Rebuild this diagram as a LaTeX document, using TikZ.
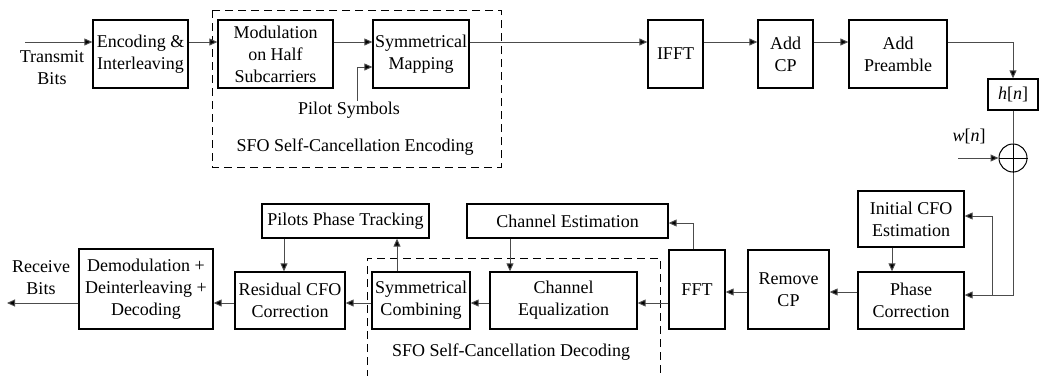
\documentclass[tikz,border=0pt]{standalone}
\usepackage{fontspec}
\setmainfont{Liberation Serif}
\usetikzlibrary{arrows.meta}

\begin{document}
\begin{tikzpicture}[x=1pt, y=-1pt,
  blk/.style={draw, line width=1.3pt, align=center, inner sep=0pt},
  arr/.style={draw=black!70, line width=1pt, -{Triangle[length=8pt, width=7pt, fill=black]}},
  wire/.style={draw=black!70, line width=1pt},
  lbl/.style={align=center, inner sep=1pt},
  every node/.style={font=\fontsize{18}{22}\selectfont}]
\useasboundingbox (0,0) rectangle (1039,375);

% TRANSMITTER
\node [lbl] (txbits) at (52, 68) {Transmit\\Bits};
\coordinate (tin) at (25, 42);
\node [blk, minimum width=95pt, minimum height=68pt] (enc) at (140.5, 54) {Encoding \&\\Interleaving};
\node [blk, minimum width=115pt, minimum height=68pt] (mod) at (275.5, 54) {Modulation\\on Half\\Subcarriers};
\node [blk, minimum width=96pt, minimum height=68pt] (symmap) at (421, 54) {Symmetrical\\Mapping};
\node [lbl] (pilot) at (349, 110) {Pilot Symbols};
\node [lbl] (enclbl) at (355, 147) {SFO Self-Cancellation Encoding};
\node [blk, minimum width=55pt, minimum height=68pt] (ifft) at (675.5, 54) {IFFT};
\node [blk, minimum width=55pt, minimum height=68pt] (addcp) at (785.5, 54) {Add\\CP};
\node [blk, minimum width=98pt, minimum height=68pt] (addpre) at (898, 54) {Add\\Preamble};

% CHANNEL
\node [blk, minimum width=50pt, minimum height=31pt] (hn) at (1013, 94.5) {\textit{h}[\textit{n}]};
\node [draw, line width=1pt, circle, minimum size=28pt, inner sep=0pt] (sum) at (1013, 158) {};
\draw [line width=1pt] (sum.north) -- (sum.south) (sum.west) -- (sum.east);
\node [lbl] (wn) at (969, 136) {\textit{w}[\textit{n}]};
\coordinate (win) at (958, 158);

% RECEIVER
\node [blk, minimum width=106pt, minimum height=56pt] (icfo) at (911, 219) {Initial CFO\\Estimation};
\node [blk, minimum width=106pt, minimum height=57pt] (phase) at (911, 300.5) {Phase\\Correction};
\node [blk, minimum width=81pt, minimum height=79pt] (rmcp) at (788.5, 289.5) {Remove\\CP};
\node [blk, minimum width=56pt, minimum height=79pt] (fft) at (697, 289.5) {FFT};
\node [blk, minimum width=201pt, minimum height=34pt] (chest) at (567.5, 221) {Channel Estimation};
\node [blk, minimum width=147pt, minimum height=57pt] (cheq) at (563.5, 300.5) {Channel\\Equalization};
\node [blk, minimum width=98pt, minimum height=57pt] (symc) at (421, 300.5) {Symmetrical\\Combining};
\node [blk, minimum width=167pt, minimum height=34pt] (ppt) at (345.5, 221) {Pilots Phase Tracking};
\node [blk, minimum width=110pt, minimum height=57pt] (rcfo) at (290, 300.5) {Residual CFO\\Correction};
\node [blk, minimum width=134pt, minimum height=80pt] (demod) at (146, 289) {Demodulation +\\Deinterleaving +\\Decoding};
\node [lbl] (rxbits) at (41, 278) {Receive\\Bits};
\coordinate (rout) at (7, 303);
\node [lbl] (declbl) at (511, 352) {SFO Self-Cancellation Decoding};

% dashed groups
\draw [dashed, line width=1pt, dash pattern=on 8pt off 5pt] (212, 10) rectangle (501, 167);
\draw [dashed, line width=1pt, dash pattern=on 8pt off 5pt] (367, 378) -- (367, 258) -- (660, 258) -- (660, 378);

% connectors, top row
\draw [arr] (tin) -- (enc.west |- tin);
\draw [arr] (enc.east |- 0,42) -- (mod.west |- 0,42);
\draw [arr] (mod.east |- 0,42) -- (symmap.west |- 0,42);
\draw [arr] ([xshift=8pt]pilot.north) |- (symmap.west |- 0,67);
\draw [arr] (symmap.east |- 0,42) -- (ifft.west |- 0,42);
\draw [arr] (ifft.east |- 0,42) -- (addcp.west |- 0,42);
\draw [arr] (addcp.east |- 0,42) -- (addpre.west |- 0,42);
\draw [arr] (addpre.east |- 0,42) -| (hn.north);
\draw [wire] (hn.south) -- (sum.north);
\draw [arr] (win) -- (sum.west);

% connectors, bottom row
\coordinate (br) at (992, 295);
\draw [wire] (sum.south) |- (br);
\draw [arr] (br) -- (phase.east |- br);
\draw [arr] (br) |- (icfo.east |- 0,216);
\draw [arr] (icfo.south -| 892,0) -- (phase.north -| 892,0);
\draw [arr] (phase.west |- 0,292) -- (rmcp.east |- 0,292);
\draw [arr] (rmcp.west |- 0,292) -- (fft.east |- 0,292);
\draw [arr] (fft.north -| 693,0) |- (chest.east |- 0,223);
\draw [arr] (chest.south -| 510,0) -- (cheq.north -| 510,0);
\draw [arr] (fft.west |- 0,303) -- (cheq.east |- 0,303);
\draw [arr] (cheq.west |- 0,303) -- (symc.east |- 0,303);
\draw [arr] (symc.north -| 397,0) -- (ppt.south -| 397,0);
\draw [arr] (ppt.south -| 284,0) -- (rcfo.north -| 284,0);
\draw [arr] (symc.west |- 0,303) -- (rcfo.east |- 0,303);
\draw [arr] (rcfo.west |- 0,303) -- (demod.east |- 0,303);
\draw [arr] (demod.west |- 0,303) -- (rout);
\end{tikzpicture}
\end{document}
